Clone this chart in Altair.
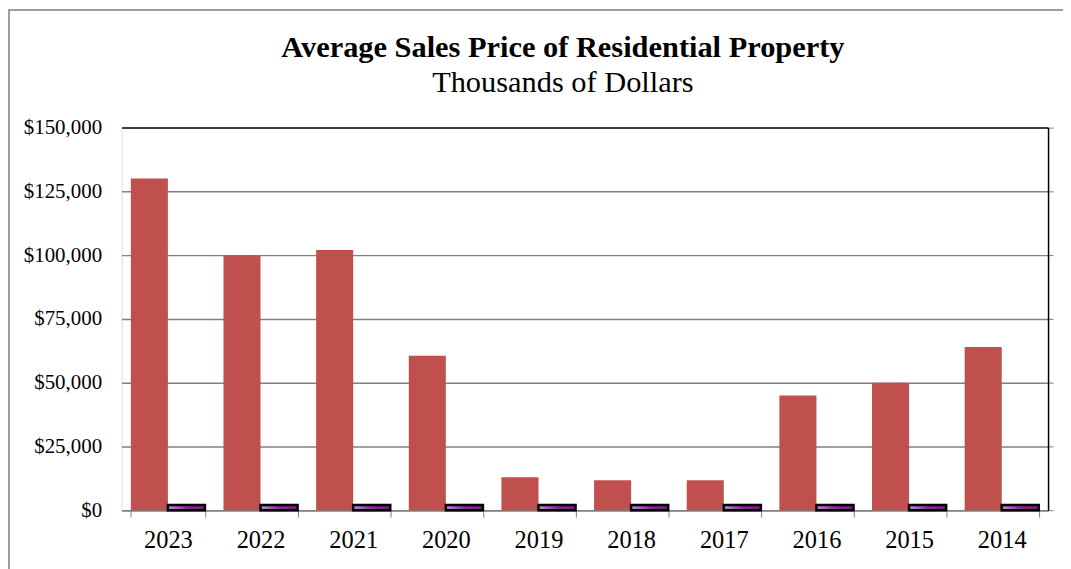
import altair as alt
import pandas as pd

years = ["2023", "2022", "2021", "2020", "2019", "2018", "2017", "2016", "2015", "2014"]
avg_price = [130000, 100000, 102000, 60500, 12900, 11700, 11700, 45000, 50000, 64000]
small_series = [2000, 2000, 2000, 2000, 2000, 2000, 2000, 2000, 2000, 2000]
series_names = ["Average Price", "Other"]
y_ticks = [0, 25000, 50000, 75000, 100000, 125000, 150000]

FONT = "Liberation Serif"

df = pd.DataFrame(
    {
        "year": years * 2,
        "series": [series_names[0]] * len(years) + [series_names[1]] * len(years),
        "value": avg_price + small_series,
    }
)

x_enc = alt.X(
    "year:N",
    sort=years,
    scale=alt.Scale(paddingInner=0.2, paddingOuter=0.1),
    axis=alt.Axis(
        title=None,
        labelAngle=0,
        labelFont=FONT,
        labelFontSize=24.5,
        labelColor="black",
        labelPadding=11,
        tickBand="extent",
        tickSize=7,
        tickColor="#808080",
        domainColor="#808080",
        domainWidth=1.5,
        grid=False,
    ),
)
xoff = alt.XOffset("series:N", scale=alt.Scale(domain=series_names, paddingInner=0, paddingOuter=0))
y_scale = alt.Scale(domain=[0, 150000], nice=False)

red = (
    alt.Chart(df)
    .transform_filter(alt.datum.series == series_names[0])
    .mark_bar(color="#C0504D")
    .encode(
        x=x_enc,
        xOffset=xoff,
        y=alt.Y(
            "value:Q",
            scale=y_scale,
            axis=alt.Axis(
                title=None,
                values=y_ticks,
                format="$,.0f",
                labelFont=FONT,
                labelFontSize=21,
                labelColor="black",
                labelPadding=20,
                ticks=False,
                domain=False,
                grid=True,
                gridColor={"condition": {"test": "datum.value === 150000", "value": "black"}, "value": "#808080"},
                gridWidth=1.5,
            ),
        ),
    )
)

purple = (
    alt.Chart(df)
    .transform_filter(alt.datum.series == series_names[1])
    .mark_bar(
        color=alt.Gradient(
            gradient="linear",
            x1=0, x2=1, y1=0, y2=0,
            stops=[
                alt.GradientStop(color="#b88ee0", offset=0),
                alt.GradientStop(color="#8a2a90", offset=0.5),
                alt.GradientStop(color="#7a1a80", offset=1),
            ],
        ),
        stroke="black",
        strokeWidth=2.5,
    )
    .encode(
        x=x_enc,
        xOffset=xoff,
        y=alt.Y(
            "value:Q",
            scale=y_scale,
            axis=alt.Axis(
                orient="right",
                title=None,
                values=y_ticks,
                labels=False,
                grid=False,
                tickSize=5,
                tickColor="#808080",
                domainColor="black",
                domainWidth=1.5,
            ),
        ),
    )
)

frame = (
    alt.Chart(pd.DataFrame({"a": [0]}))
    .mark_rect(filled=False, stroke="#808080", strokeWidth=1.5)
    .encode(
        x=alt.value(-113),
        x2=alt.value(960),
        y=alt.value(-118),
        y2=alt.value(470),
    )
)

chart = (
    alt.layer(frame, red, purple)
    .resolve_axis(y="independent")
    .properties(
        width=930,
        height=384,
        autosize=alt.AutoSizeParams(type="none"),
        padding={"left": 114, "top": 119, "right": 15, "bottom": 58},
        title=alt.TitleParams(
            text="Average Sales Price of Residential Property",
            subtitle="Thousands of Dollars",
            font=FONT,
            fontSize=30.5,
            fontWeight="bold",
            color="black",
            subtitleFont=FONT,
            subtitleFontSize=30.5,
            subtitleFontWeight="normal",
            subtitleColor="black",
            subtitlePadding=5,
            anchor="middle",
            dx=-22,
            dy=90,
            offset=0,
        ),
    )
    .configure_view(stroke=None)
    .configure(background="white")
)

chart.save("out.html", embed_options={"renderer": "svg", "actions": False})
